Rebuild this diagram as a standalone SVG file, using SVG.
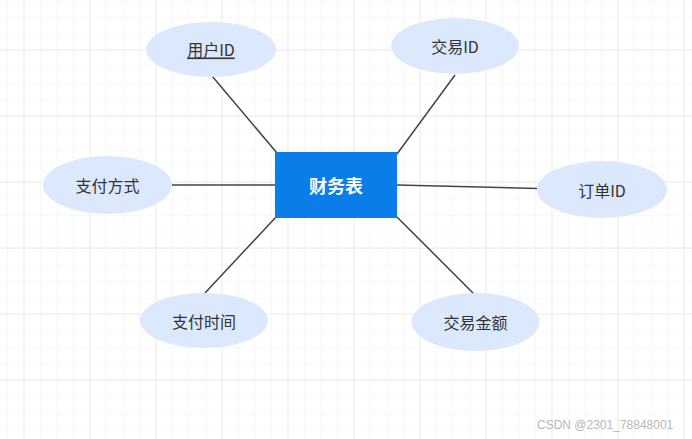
<svg xmlns="http://www.w3.org/2000/svg" width="692" height="439" viewBox="0 0 692 439">
<defs>
<pattern id="minor" x="7" y="0.5" width="16.5" height="16.5" patternUnits="userSpaceOnUse">
<path d="M 0 0 V 16.5 M 0 0 H 16.5" fill="none" stroke="#f2f2f2" stroke-width="1.2"/>
</pattern>
<pattern id="major" x="23.5" y="49.5" width="66" height="66" patternUnits="userSpaceOnUse">
<path d="M 0 0 V 66 M 0 0 H 66" fill="none" stroke="#e6e6e6" stroke-width="1.3"/>
</pattern>
<style>
.attr ellipse { fill: #dce9fd; stroke: none; }
.attr text { font-family: "Noto Sans CJK SC", "Liberation Sans", sans-serif; font-size: 16px; fill: #333333; text-anchor: middle; dominant-baseline: central; }
.conn line { stroke: #444444; stroke-width: 1.5; }
</style>
</defs>
<rect width="692" height="439" fill="#ffffff"/>
<rect width="692" height="439" fill="url(#minor)"/>
<rect width="692" height="439" fill="url(#major)"/>

<g id="connectors" class="conn">
<line x1="212" y1="76" x2="277" y2="153"/>
<line x1="455" y1="75" x2="397" y2="154"/>
<line x1="172" y1="185" x2="275" y2="185"/>
<line x1="397" y1="185" x2="538" y2="188.5"/>
<line x1="276" y1="217" x2="205" y2="293"/>
<line x1="397" y1="217" x2="474" y2="294"/>
</g>

<g id="node-main">
<rect x="275" y="152" width="122" height="66" fill="#0a7de9"/>
<text x="336" y="185" font-family="Noto Sans CJK SC, Liberation Sans, sans-serif" font-size="18" font-weight="bold" fill="#ffffff" text-anchor="middle" dominant-baseline="central">财务表</text>
</g>

<g id="node-userid" class="attr">
<ellipse cx="211" cy="49.5" rx="65" ry="27.5"/>
<text x="211" y="48.5" text-decoration="underline">用户ID</text>
</g>

<g id="node-tradeid" class="attr">
<ellipse cx="455" cy="46" rx="64" ry="28"/>
<text x="455" y="46">交易ID</text>
</g>

<g id="node-paymethod" class="attr">
<ellipse cx="107.5" cy="185" rx="64.5" ry="29"/>
<text x="107.5" y="185">支付方式</text>
</g>

<g id="node-orderid" class="attr">
<ellipse cx="602" cy="189.5" rx="65" ry="28.5"/>
<text x="602" y="189.5">订单ID</text>
</g>

<g id="node-paytime" class="attr">
<ellipse cx="204" cy="320.5" rx="64" ry="27.5"/>
<text x="204" y="321">支付时间</text>
</g>

<g id="node-amount" class="attr">
<ellipse cx="475.5" cy="322" rx="64" ry="29"/>
<text x="475.5" y="322">交易金额</text>
</g>

<text x="537" y="429" font-family="Liberation Sans, sans-serif" font-size="12" fill="#b8b8b8">CSDN @2301_78848001</text>
</svg>
